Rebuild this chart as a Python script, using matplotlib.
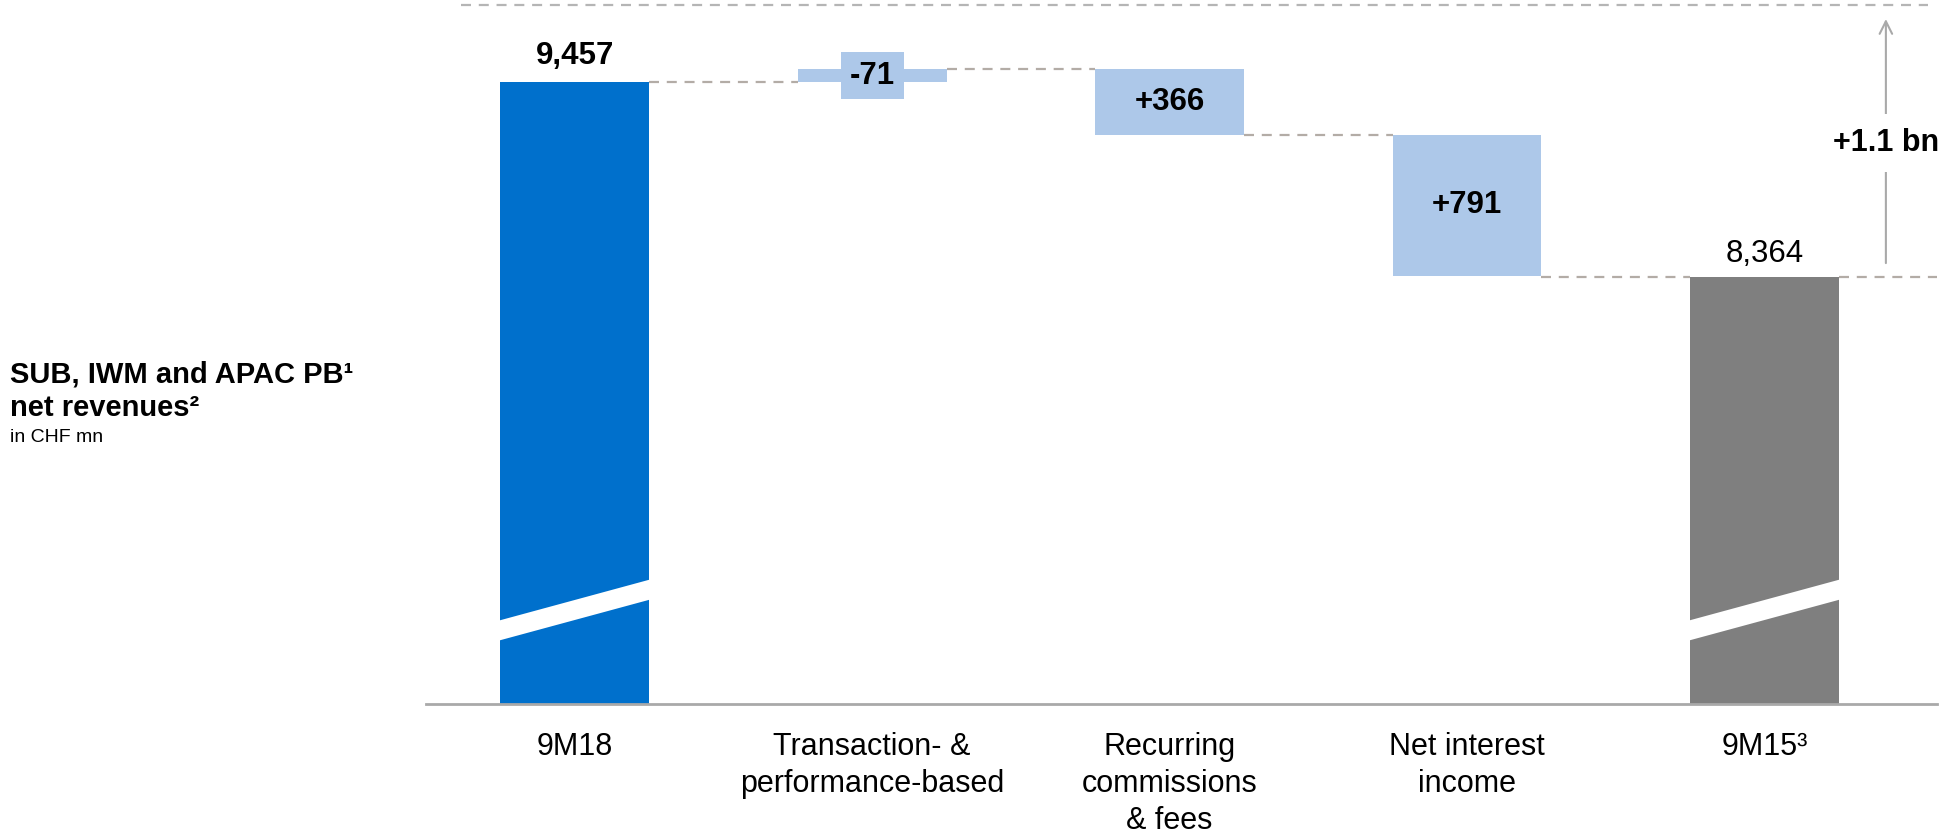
import matplotlib
matplotlib.use("Agg")
import matplotlib.pyplot as plt
from matplotlib.patches import Polygon, Rectangle
import numpy as np

plt.rcParams["font.family"] = ["Liberation Sans", "DejaVu Sans"]

# --- data -------------------------------------------------------------
categories = ["9M18", "Transaction- &\nperformance-based", "Recurring\ncommissions\n& fees",
              "Net interest\nincome", "9M15³"]
start_value = 9457          # 9M18
end_value = 8364            # 9M15
deltas = [-71, 366, 791]    # contributions (read from 9M15 up to 9M18)
delta_labels = ["-71", "+366", "+791"]
total_change_label = "+1.1 bn"
title_lines = ["SUB, IWM and APAC PB¹", "net revenues²"]
unit_label = "in CHF mn"

# --- style ------------------------------------------------------------
BLUE = "#0070CC"
LIGHT = "#ADC8E9"
GREY_BAR = "#7F7F7F"
DASH = "#B3ACA6"
LINE_GREY = "#A9A9A9"
W = 0.5

W_PX, H_PX = 1943, 836
fig = plt.figure(figsize=(W_PX / 100, H_PX / 100), dpi=100)
ax_left, ax_bottom = 426 / W_PX, (H_PX - 704) / H_PX
ax = fig.add_axes([ax_left, ax_bottom, 1 - ax_left, 1 - ax_bottom])

ymin, ymax = 5970, 9917
ax.set_ylim(ymin, ymax)
ax.set_xlim(-0.5, 4.6)

x = np.arange(len(categories))

# end bars (broken axis, drawn from the lower limit)
ax.bar(x[0], start_value - ymin, bottom=ymin, width=W, color=BLUE, zorder=2)
ax.bar(x[-1], end_value - ymin, bottom=ymin, width=W, color=GREY_BAR, zorder=2)

# floating bars: from 9M18 level stepping down towards 9M15
levels = [start_value]
for d in deltas:
    levels.append(levels[-1] - d)
px_per_unit = 704 / (ymax - ymin)
for i, d in enumerate(deltas):
    top = max(levels[i], levels[i + 1])
    bot = min(levels[i], levels[i + 1])
    xi = x[i + 1]
    ax.bar(xi, top - bot, bottom=bot, width=W, color=LIGHT, zorder=2)
    mid = (top + bot) / 2
    if (top - bot) * px_per_unit < 40:
        # label box for a thin bar
        bh = 47 / px_per_unit
        bw = 63 / 297.45
        ax.add_patch(Rectangle((xi - bw / 2, mid - bh / 2), bw, bh, color=LIGHT, zorder=3, lw=0))
    ax.text(xi, mid, delta_labels[i], ha="center", va="center", fontsize=22.5,
            fontweight="bold", zorder=4)

# connectors
conn_kw = dict(color=DASH, lw=1.6, linestyle=(0, (4.5, 3.5)), zorder=1)
ax.plot([x[0] + W / 2, x[1] - W / 2], [start_value] * 2, **conn_kw)
for i in range(1, len(deltas)):
    ax.plot([x[i] + W / 2, x[i + 1] - W / 2], [levels[i]] * 2, **conn_kw)
ax.plot([x[3] + W / 2, x[4] - W / 2], [end_value] * 2, **conn_kw)
ax.plot([x[4] + W / 2, 4.58], [end_value] * 2, **conn_kw)
# top reference line
ax.plot([0.023, 0.99], [0.993, 0.993], transform=ax.transAxes, color="#B5B5B5",
        lw=1.6, linestyle=(0, (4.5, 3.5)), zorder=1)

# value labels on end bars
ax.annotate(f"{start_value:,}", (x[0], start_value), xytext=(0, 8), textcoords="offset points",
            ha="center", va="bottom", fontsize=22.5, fontweight="bold")
ax.annotate(f"{end_value:,}", (x[-1], end_value), xytext=(0, 5.5), textcoords="offset points",
            ha="center", va="bottom", fontsize=22.5)

# axis break marks
for xi in (x[0], x[-1]):
    poly = Polygon([(xi - W / 2 - 0.01, 0.0895), (xi + W / 2 + 0.01, 0.1491),
                    (xi + W / 2 + 0.01, 0.1776), (xi - W / 2 - 0.01, 0.1179)],
                   closed=True, color="white", lw=0, zorder=3,
                   transform=ax.get_xaxis_transform())
    ax.add_patch(poly)

# total change arrow
xa = 4.408
ax.annotate("", xy=(xa, 0.973), xycoords=("data", "axes fraction"),
            xytext=(xa, end_value), textcoords="data",
            arrowprops=dict(arrowstyle="->,head_length=0.9,head_width=0.45", color=LINE_GREY,
                            lw=1.5, shrinkA=10, shrinkB=0))
ax.text(xa, 0.797, total_change_label, transform=ax.get_xaxis_transform(), ha="center",
        va="center", fontsize=22, fontweight="bold", zorder=5,
        bbox=dict(boxstyle="square,pad=0.45", fc="white", ec="none"))

# axes styling
for s in ("top", "right", "left"):
    ax.spines[s].set_visible(False)
ax.spines["bottom"].set_color(LINE_GREY)
ax.spines["bottom"].set_linewidth(2)
ax.spines["bottom"].set_bounds(-0.5, 4.58)
ax.set_yticks([])
ax.set_xticks(x)
ax.set_xticklabels(categories, fontsize=22, linespacing=1.32)
ax.tick_params(axis="x", length=0, pad=20)

# left-hand title
fig.text(10 / W_PX, 1 - 383 / H_PX, title_lines[0], fontsize=21, fontweight="bold",
         ha="left", va="baseline")
fig.text(10 / W_PX, 1 - 416 / H_PX, title_lines[1], fontsize=21, fontweight="bold",
         ha="left", va="baseline")
fig.text(10 / W_PX, 1 - 442 / H_PX, unit_label, fontsize=14, ha="left", va="baseline")

fig.savefig("out.png", dpi=100)
